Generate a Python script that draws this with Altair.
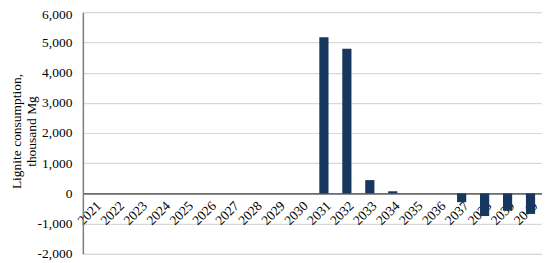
import altair as alt
import pandas as pd

years = [str(y) for y in range(2021, 2041)]
values = [0, 0, 0, 0, 0, 0, 0, 0, 0, 0,
          5170, 4790, 440, 70, 0, 0, -290, -750, -570, -680]

df = pd.DataFrame({"year": years, "value": values})

FONT = "Liberation Serif"

bars = alt.Chart(df).mark_bar(color="#17375e").encode(
    x=alt.X("year:N", sort=years,
            scale=alt.Scale(paddingInner=0.6, paddingOuter=0.3),
            axis=alt.Axis(title=None, labelAngle=-45, labelFont=FONT, labelFontSize=13.5,
                          labelColor="#000000", ticks=False, domainColor="#404040",
                          domainWidth=1.3, offset=-60.5, labelPadding=5, grid=False,
                          labelOverlap=False)),
    y=alt.Y("value:Q", scale=alt.Scale(domain=[-2000, 6000], nice=False),
            axis=alt.Axis(title=["Lignite consumption,", "thousand Mg"],
                          labelExpr="replace(format(datum.value, ',d'), '\u2212', '-')",
                          values=list(range(-2000, 6001, 1000)),
                          labelFont=FONT, labelFontSize=13.5, labelColor="#000000",
                          labelOffset={"expr": "datum.value == 6000 ? 2 : 0"},
                          titleFont=FONT, titleFontSize=13.5, titleFontWeight="normal",
                          titleColor="#000000", labelPadding=11,
                          titleLineHeight=14.5, titleX=-59, titleY=119,
                          titleBaseline="bottom", titleAlign="center", titleAngle=270,
                          ticks=False, domainColor="#7f7f7f", domainWidth=1.5,
                          gridColor="#d9d9d9", gridWidth=1.2)),
)

chart = bars.properties(
    width=460, height=242,
    autosize=alt.AutoSizeParams(type="none"),
    padding={"left": 75, "top": 4, "right": 0, "bottom": 9},
).configure_view(stroke=None).configure(background="white")

chart.save("out.html", embed_options={"renderer": "svg", "actions": False})
